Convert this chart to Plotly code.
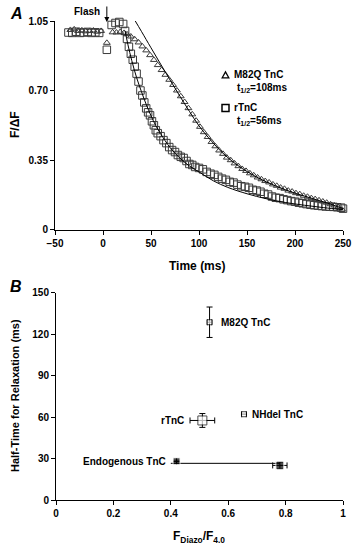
import plotly.graph_objects as go

# ---------------- Panel A data ----------------
tri_t = [-34, -30, -26, -22, -18, -14, -10, -6, -2, 4, 10, 14, 18, 22,
         25, 29, 33, 37, 41, 45, 49, 53, 57, 61, 65, 69, 73, 77, 81, 85, 89, 93, 97,
         101, 105, 109, 113, 117, 121, 125, 129, 133, 137, 141, 145, 149, 153, 157,
         161, 165, 169, 173, 177, 181, 185, 189, 193, 197, 201, 205, 209, 213, 217,
         221, 225, 229, 233, 237, 241, 245, 249]
tri_f = [1.005, 1.008, 1.0, 1.003, 0.998, 1.0, 1.002, 0.996, 1.0, 0.94, 0.993, 0.992, 0.995, 0.99,
         0.983, 0.972, 0.958, 0.942, 0.922, 0.902, 0.878, 0.854, 0.828, 0.803, 0.779, 0.754, 0.728,
         0.700, 0.671, 0.642, 0.611, 0.580, 0.548,
         0.517, 0.490, 0.466, 0.441, 0.419, 0.398, 0.381, 0.362, 0.349, 0.333, 0.319, 0.305,
         0.295, 0.283, 0.273, 0.262, 0.253, 0.244, 0.237, 0.227, 0.220, 0.211, 0.205, 0.196,
         0.191, 0.183, 0.178, 0.170, 0.165, 0.158, 0.153, 0.147, 0.141, 0.135, 0.127,
         0.121, 0.113, 0.100]

sq_t = [-36, -32, -28, -24, -20, -16, -12, -8, -4, 4, 9, 13, 17, 21,
        23, 25, 27, 29, 31, 33, 35, 37, 39, 41, 43, 45, 47, 49, 51, 53, 55, 57,
        60, 63, 66, 69, 72, 75, 78, 81, 84, 87, 90, 93, 96, 100, 104, 108, 112, 116,
        120, 124, 128, 132, 136, 140, 144, 148, 152, 156, 160, 164, 168, 172, 176,
        180, 184, 188, 192, 196, 200, 204, 208, 212, 216, 220, 224, 228, 232, 236,
        240, 244, 248, 250]
sq_f = [0.992, 0.99, 0.996, 0.99, 0.992, 0.995, 0.99, 0.993, 0.99, 0.905, 1.03, 1.04, 1.045, 1.035,
        1.0, 0.96, 0.92, 0.885, 0.855, 0.82, 0.785, 0.745, 0.70, 0.675, 0.64, 0.61, 0.59, 0.575,
        0.545, 0.525, 0.50, 0.485,
        0.47, 0.45, 0.435, 0.415, 0.40, 0.39, 0.375, 0.366, 0.36, 0.345, 0.33, 0.325, 0.315,
        0.31, 0.303, 0.29, 0.281, 0.275, 0.265, 0.256, 0.25, 0.24, 0.236, 0.226, 0.218, 0.215,
        0.21, 0.20, 0.196, 0.19, 0.18, 0.176, 0.166, 0.16, 0.158, 0.152, 0.148, 0.143, 0.14,
        0.135, 0.132, 0.128, 0.125, 0.122, 0.12, 0.118, 0.116, 0.115, 0.114, 0.112, 0.11, 0.105]

fit_tri_t = [33, 40, 50, 60, 70, 80, 90, 100, 110, 120, 130, 140, 150, 160, 170, 180,
             190, 200, 210, 220, 230, 240, 250]
fit_tri_f = [1.055, 0.998, 0.915, 0.833, 0.752, 0.672, 0.595, 0.522, 0.462, 0.408, 0.362,
             0.324, 0.292, 0.264, 0.240, 0.219, 0.200, 0.183, 0.168, 0.153, 0.139, 0.123, 0.105]

fit_sq_t = [23, 26, 30, 35, 40, 45, 50, 55, 60, 70, 80, 90, 100, 115, 130, 150, 170,
            190, 210, 230, 250]
fit_sq_f = [1.0, 0.93, 0.85, 0.765, 0.695, 0.63, 0.573, 0.523, 0.482, 0.412, 0.36, 0.32,
            0.29, 0.245, 0.212, 0.18, 0.155, 0.136, 0.122, 0.11, 0.10]

flash_t = 4

# ---------------- Panel B data ----------------
b_names = ["M82Q TnC", "NHdel TnC", "rTnC"]
b_x = [0.535, 0.655, 0.51]
b_y = [128.5, 62.0, 57.5]
b_xerr = [0.008, 0.008, 0.043]
b_yerr = [11.0, 0.0, 5.0]
b_size = [5, 5, 9]

endo_x = [0.42, 0.78]
endo_y = [28.0, 25.0]
endo_xerr = [0.0, 0.025]
endo_yerr = [0.0, 2.5]
endo_span_x = [0.78]
endo_span_y = [26.5]
endo_span_minus = [0.38]

W, H = 355, 548
def px(x): return x / W
def py(y): return 1 - y / H

fig = go.Figure()

tri_style = dict(symbol="triangle-up-open", size=6, color="#3a3a3a", line=dict(width=1, color="#3a3a3a"))
sq_style = dict(symbol="square-open", size=7.5, color="#3a3a3a", line=dict(width=1, color="#3a3a3a"))

fig.add_trace(go.Scatter(x=tri_t, y=tri_f, mode="markers", marker=tri_style,
                         xaxis="x", yaxis="y", cliponaxis=False, showlegend=False))
fig.add_trace(go.Scatter(x=sq_t, y=sq_f, mode="markers", marker=sq_style,
                         xaxis="x", yaxis="y", cliponaxis=False, showlegend=False))
fig.add_trace(go.Scatter(x=fit_tri_t, y=fit_tri_f, mode="lines", line=dict(color="black", width=1, shape="spline"),
                         xaxis="x", yaxis="y", cliponaxis=False, showlegend=False))
fig.add_trace(go.Scatter(x=fit_sq_t, y=fit_sq_f, mode="lines", line=dict(color="black", width=1, shape="spline"),
                         xaxis="x", yaxis="y", cliponaxis=False, showlegend=False))

# Panel B
fig.add_trace(go.Scatter(x=endo_span_x, y=endo_span_y, mode="markers",
                         marker=dict(size=1, color="rgba(0,0,0,0)"),
                         error_x=dict(type="data", symmetric=False, array=[0], arrayminus=endo_span_minus,
                                      color="black", thickness=1, width=0),
                         xaxis="x2", yaxis="y2", cliponaxis=False, showlegend=False))
fig.add_trace(go.Scatter(x=endo_x, y=endo_y, mode="markers",
                         marker=dict(symbol="square", size=[7, 8], color="black"),
                         error_x=dict(type="data", array=endo_xerr, color="black", thickness=1, width=3),
                         error_y=dict(type="data", array=endo_yerr, color="black", thickness=1, width=3),
                         xaxis="x2", yaxis="y2", cliponaxis=False, showlegend=False))
fig.add_trace(go.Scatter(x=b_x, y=b_y, mode="markers",
                         marker=dict(symbol="square", size=b_size, color="white", line=dict(color="black", width=1)),
                         error_x=dict(type="data", array=b_xerr, color="black", thickness=1, width=3),
                         error_y=dict(type="data", array=b_yerr, color="black", thickness=1, width=3),
                         xaxis="x2", yaxis="y2", cliponaxis=False, showlegend=False))

tickfont = dict(family="Liberation Sans, Arial", size=10, color="black", weight="bold")
axis_common = dict(showline=True, linecolor="black", linewidth=1, ticks="outside", ticklen=4,
                   tickwidth=1, tickcolor="black", showgrid=False, zeroline=False, tickfont=tickfont,
                   automargin=False)

fig.update_layout(
    template="none",
    width=W, height=H, margin=dict(l=0, r=0, t=0, b=0, autoexpand=False),
    paper_bgcolor="white", plot_bgcolor="white",
    xaxis=dict(domain=[px(55), px(343)], range=[-50, 250], tickvals=[-50, 0, 50, 100, 150, 200, 250],
               anchor="y", **axis_common),
    yaxis=dict(domain=[py(229.5), py(21)], range=[0, 1.05], tickvals=[0, 0.35, 0.70, 1.05],
               ticktext=["0", "0.35", "0.70", "1.05"], anchor="x", **axis_common),
    xaxis2=dict(domain=[px(56), px(343)], range=[0, 1], tickvals=[0, 0.2, 0.4, 0.6, 0.8, 1],
                ticktext=["0", "0.2", "0.4", "0.6", "0.8", "1"], anchor="y2", **axis_common),
    yaxis2=dict(domain=[py(500), py(292.5)], range=[0, 150], tickvals=[0, 30, 60, 90, 120, 150],
                anchor="x2", **axis_common),
    font=dict(family="Liberation Sans, Arial", color="black"),
)

bold = dict(family="Liberation Sans, Arial", color="black", weight="bold")


def note(text, x, y, size=10, xanchor="center", yanchor="middle", xref="paper", yref="paper", **kw):
    if xref == "paper":
        x = px(x)
    if yref == "paper":
        y = py(y)
    return dict(text=text, x=x, y=y, xref=xref, yref=yref, xanchor=xanchor, yanchor=yanchor,
                showarrow=False, font=dict(size=size, **bold), **kw)


ann = []
# panel labels
ann.append(note("<i>A</i>", 8, 3, size=16, xanchor="left", yanchor="top"))
ann.append(note("<i>B</i>", 8, 276, size=16, xanchor="left", yanchor="top"))
# axis titles
ann.append(note("F/ΔF", 15, 125, size=12, textangle=-90))
ann.append(note("Time (ms)", 197, 266, size=12))
ann.append(note("Half-Time for Relaxation (ms)", 15, 396, size=11, textangle=-90))
ann.append(note("F<sub>Diazo</sub>/F<sub>4.0</sub>", 199, 537, size=12))
# flash
ann.append(note("Flash", 102, 12, xanchor="right"))
ann.append(dict(text="", x=flash_t, y=1.045, xref="x", yref="y", showarrow=True, ax=0, ay=-17,
                arrowhead=2, arrowsize=1, arrowwidth=1, arrowcolor="black"))
# legend texts
ann.append(note("M82Q TnC", 232, 75, xanchor="left"))
ann.append(note("t<sub>1/2</sub>=108ms", 235, 88, xanchor="left"))
ann.append(note("rTnC", 232, 108, xanchor="left"))
ann.append(note("t<sub>1/2</sub>=56ms", 235, 121, xanchor="left"))
# panel B labels
ann.append(note("M82Q TnC", b_x[0], b_y[0], xref="x2", yref="y2", xanchor="left", xshift=9))
ann.append(note("NHdel TnC", b_x[1], b_y[1], xref="x2", yref="y2", xanchor="left", xshift=6))
ann.append(note("rTnC", b_x[2] - b_xerr[2], b_y[2], xref="x2", yref="y2", xanchor="right", xshift=-4))
ann.append(note("Endogenous TnC", endo_span_x[0] - endo_span_minus[0], endo_y[0], xref="x2", yref="y2",
                xanchor="right", xshift=-3))
fig.update_layout(annotations=ann)

# legend symbols (drawn as shapes in paper space)
def tri_path(cx, cy, s):
    return (f"M {px(cx - s)} {py(cy + s * 0.85)} L {px(cx + s)} {py(cy + s * 0.85)} "
            f"L {px(cx)} {py(cy - s * 0.95)} Z")
fig.add_shape(type="path", path=tri_path(225.5, 75, 3.3), xref="paper", yref="paper",
              line=dict(color="black", width=1.3))
fig.add_shape(type="rect", x0=px(222), x1=px(229), y0=py(111.5), y1=py(104.5), xref="paper", yref="paper",
              line=dict(color="black", width=1.5))

fig.write_html("out.html", config={"displayModeBar": False},
               post_script="document.body.style.margin='0';document.body.style.padding='0';"
                           "document.body.style.overflow='hidden';"
                           "document.documentElement.style.overflow='hidden';")
